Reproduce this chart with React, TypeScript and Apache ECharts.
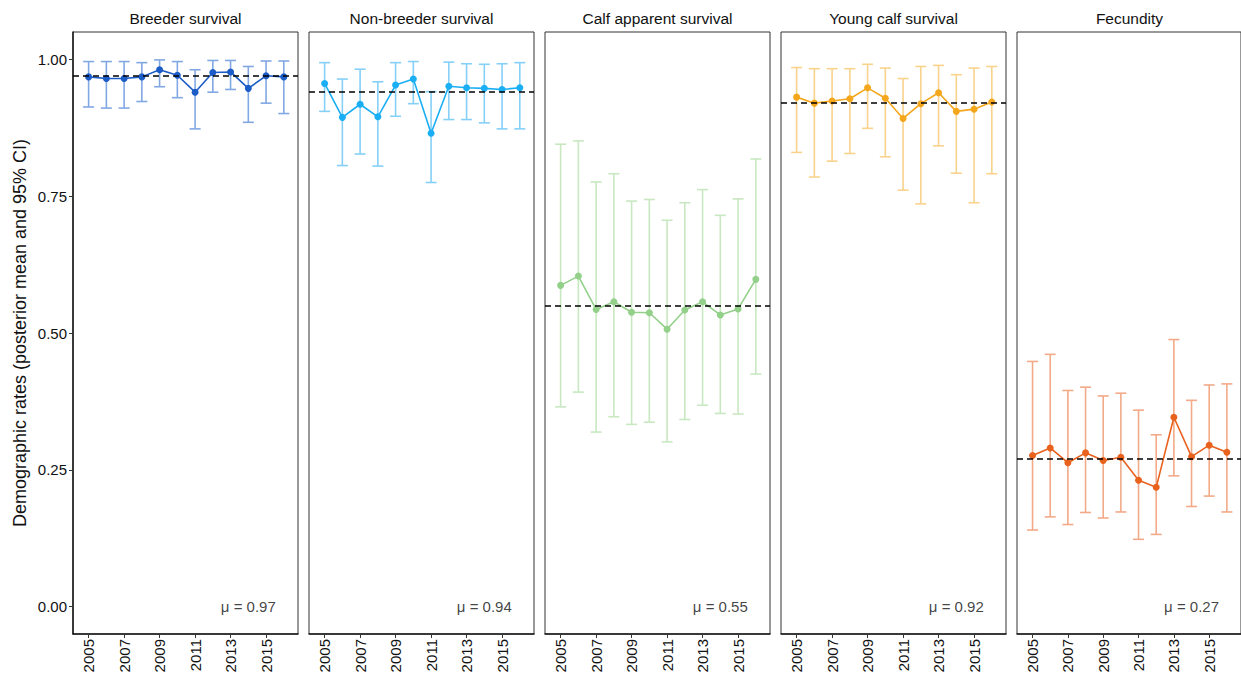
import React, { useEffect, useRef } from "react";
import * as echarts from "echarts";

// Years of the study
const years = [2005, 2006, 2007, 2008, 2009, 2010, 2011, 2012, 2013, 2014, 2015, 2016];
const yearTicks = [2005, 2007, 2009, 2011, 2013, 2015];
const rateTicks = [0, 0.25, 0.5, 0.75, 1];

// Breeder survival
const breederMean = [0.968, 0.965, 0.965, 0.968, 0.981, 0.971, 0.94, 0.976, 0.977, 0.947, 0.97, 0.968];
const breederLo = [0.913, 0.911, 0.911, 0.923, 0.95, 0.93, 0.873, 0.94, 0.945, 0.885, 0.92, 0.901];
const breederHi = [0.996, 0.996, 0.996, 0.994, 0.999, 0.996, 0.981, 0.998, 0.998, 0.987, 0.997, 0.997];

// Non-breeder survival
const nonBreederMean = [0.956, 0.894, 0.918, 0.895, 0.953, 0.964, 0.865, 0.951, 0.948, 0.947, 0.945, 0.948];
const nonBreederLo = [0.905, 0.806, 0.827, 0.805, 0.896, 0.919, 0.775, 0.89, 0.89, 0.884, 0.873, 0.873];
const nonBreederHi = [0.994, 0.964, 0.982, 0.959, 0.994, 0.996, 0.941, 0.995, 0.992, 0.991, 0.992, 0.994];

// Calf apparent survival
const calfMean = [0.587, 0.604, 0.543, 0.557, 0.538, 0.537, 0.507, 0.542, 0.557, 0.533, 0.544, 0.598];
const calfLo = [0.365, 0.392, 0.319, 0.347, 0.333, 0.337, 0.301, 0.342, 0.368, 0.353, 0.352, 0.425];
const calfHi = [0.845, 0.851, 0.776, 0.791, 0.741, 0.744, 0.706, 0.738, 0.762, 0.715, 0.745, 0.818];

// Young calf survival
const youngMean = [0.931, 0.92, 0.924, 0.928, 0.948, 0.929, 0.892, 0.919, 0.939, 0.905, 0.909, 0.922];
const youngLo = [0.83, 0.785, 0.814, 0.828, 0.874, 0.822, 0.761, 0.736, 0.842, 0.792, 0.738, 0.791];
const youngHi = [0.985, 0.983, 0.983, 0.983, 0.991, 0.984, 0.965, 0.987, 0.989, 0.972, 0.984, 0.987];

// Fecundity
const fecundityMean = [0.276, 0.29, 0.263, 0.281, 0.267, 0.273, 0.231, 0.218, 0.346, 0.274, 0.295, 0.282];
const fecundityLo = [0.14, 0.164, 0.15, 0.172, 0.162, 0.173, 0.123, 0.132, 0.239, 0.183, 0.202, 0.173];
const fecundityHi = [0.448, 0.461, 0.395, 0.401, 0.385, 0.39, 0.359, 0.314, 0.488, 0.377, 0.405, 0.407];

// Overall posterior means
const overallMeans = [0.971, 0.942, 0.553, 0.923, 0.273];
const panelTitles = [
  "Breeder survival",
  "Non-breeder survival",
  "Calf apparent survival",
  "Young calf survival",
  "Fecundity",
];

const panels = [
  { mean: breederMean, lo: breederLo, hi: breederHi, color: "#1c5cc6", barColor: "#82a8e4" },
  { mean: nonBreederMean, lo: nonBreederLo, hi: nonBreederHi, color: "#1aaef4", barColor: "#86d0f8" },
  { mean: calfMean, lo: calfLo, hi: calfHi, color: "#93d08a", barColor: "#c8e8c1" },
  { mean: youngMean, lo: youngLo, hi: youngHi, color: "#f4a71d", barColor: "#f9d38c" },
  { mean: fecundityMean, lo: fecundityLo, hi: fecundityHi, color: "#e8621e", barColor: "#f3aa88" },
];

const FONT = "'Liberation Sans', Arial, Helvetica, sans-serif";
const TEXT = "#111111";
const PANEL_LEFT = 73;
const PANEL_STEP = 236;
const PANEL_WIDTH = 225;
const PANEL_TOP = 32;
const PANEL_HEIGHT = 602;

export default function App() {
  const ref = useRef<HTMLDivElement>(null);

  useEffect(() => {
    if (!ref.current) return;
    const chart = echarts.init(ref.current, undefined, { renderer: "svg" });

    const grids: any[] = [];
    const xAxes: any[] = [];
    const yAxes: any[] = [];
    const series: any[] = [];
    const graphics: any[] = [];

    panels.forEach((p, i) => {
      const left = PANEL_LEFT + PANEL_STEP * i;
      grids.push({
        left,
        top: PANEL_TOP,
        width: PANEL_WIDTH,
        height: PANEL_HEIGHT,
        show: true,
        borderColor: "#333333",
        borderWidth: 1,
        backgroundColor: "transparent",
      });
      xAxes.push({
        type: "value",
        gridIndex: i,
        min: 2004.12,
        max: 2016.8,
        splitLine: { show: false },
        axisLine: { show: true, onZero: false, lineStyle: { color: "#1a1a1a", width: 1.5 } },
        axisTick: {
          show: true,
          customValues: yearTicks,
          length: 4,
          lineStyle: { color: "#333333", width: 1 },
        },
        axisLabel: {
          show: true,
          customValues: yearTicks,
          rotate: 90,
          margin: 5,
          fontSize: 15,
          color: TEXT,
          fontFamily: FONT,
          formatter: (v: number) => String(Math.round(v)),
        },
      });
      yAxes.push({
        type: "value",
        gridIndex: i,
        min: -0.05,
        max: 1.05,
        splitLine: { show: false },
        axisLine: { show: i === 0, onZero: false, lineStyle: { color: "#1a1a1a", width: 1.5 } },
        axisTick: {
          show: i === 0,
          customValues: rateTicks,
          length: 4,
          lineStyle: { color: "#333333", width: 1 },
        },
        axisLabel: {
          show: i === 0,
          customValues: rateTicks,
          margin: 6,
          fontSize: 15,
          color: TEXT,
          fontFamily: FONT,
          formatter: (v: number) => v.toFixed(2),
        },
        name: i === 0 ? "Demographic rates (posterior mean and 95% CI)" : "",
        nameLocation: "middle",
        nameGap: 44,
        nameRotate: 90,
        nameTextStyle: { fontSize: 18, color: TEXT, fontFamily: FONT },
      });

      // 95% credible intervals as capped error bars
      series.push({
        type: "custom",
        xAxisIndex: i,
        yAxisIndex: i,
        data: years.map((y, k) => [y, p.lo[k], p.hi[k]]),
        renderItem: (_params: any, api: any) => {
          const x = api.value(0);
          const lo = api.coord([x, api.value(1)]);
          const hi = api.coord([x, api.value(2)]);
          const cap = 5.5;
          const style = { stroke: p.barColor, lineWidth: 1.6, fill: "none" };
          return {
            type: "group",
            children: [
              { type: "line", shape: { x1: lo[0], y1: lo[1], x2: hi[0], y2: hi[1] }, style },
              { type: "line", shape: { x1: hi[0] - cap, y1: hi[1], x2: hi[0] + cap, y2: hi[1] }, style },
              { type: "line", shape: { x1: lo[0] - cap, y1: lo[1], x2: lo[0] + cap, y2: lo[1] }, style },
            ],
          };
        },
        z: 1,
        silent: true,
      });

      // Yearly posterior means
      series.push({
        type: "line",
        xAxisIndex: i,
        yAxisIndex: i,
        data: years.map((y, k) => [y, p.mean[k]]),
        symbol: "circle",
        symbolSize: 7,
        showSymbol: true,
        itemStyle: { color: p.color },
        lineStyle: { color: p.color, width: 1.6 },
        z: 3,
        markLine: {
          silent: true,
          symbol: "none",
          label: { show: false },
          lineStyle: { color: "#000000", type: [6, 4], width: 1.5 },
          data: [{ yAxis: overallMeans[i] }],
          z: 4,
        },
      });

      // Overall mean annotation
      series.push({
        type: "scatter",
        xAxisIndex: i,
        yAxisIndex: i,
        data: [[2014, 0]],
        symbolSize: 0,
        silent: true,
        label: {
          show: true,
          position: "inside",
          formatter: "μ = " + overallMeans[i].toFixed(2),
          fontSize: 15,
          color: TEXT,
          fontFamily: FONT,
        },
      });

      graphics.push({
        type: "text",
        x: left + PANEL_WIDTH / 2,
        y: 18,
        style: {
          text: panelTitles[i],
          align: "center",
          verticalAlign: "middle",
          fontSize: 15.5,
          fill: TEXT,
          fontFamily: FONT,
        },
      });
    });

    chart.setOption({
      animation: false,
      backgroundColor: "#ffffff",
      grid: grids,
      xAxis: xAxes,
      yAxis: yAxes,
      series,
      graphic: graphics,
    });

    return () => chart.dispose();
  }, []);

  return (
    <div
      ref={ref}
      style={{ position: "fixed", left: 0, top: 0, width: 1241, height: 681, background: "#ffffff" }}
    />
  );
}
